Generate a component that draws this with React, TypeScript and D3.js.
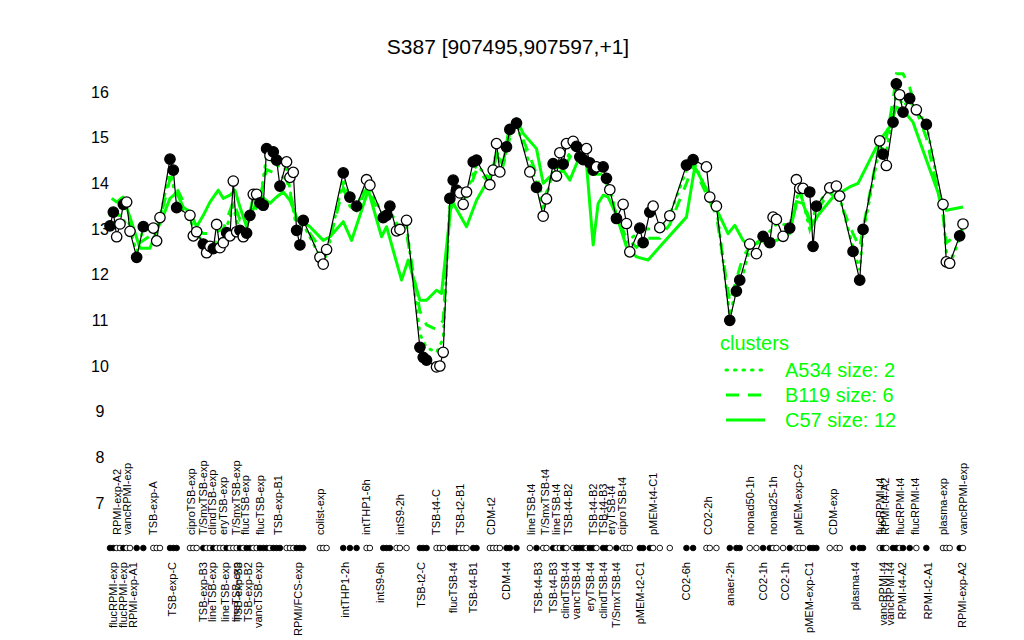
import React from "react";
import * as d3 from "d3";

// ---------- data ----------
const pointPos = [0,1,2,3,4,5,6,8,10,13,14,15,18,19,20,24,25,26,28,29,30,31,32,33,34,35,36,37,38,39,40,41,42,43,44,45,46,47,48,49,50,51,53,54,55,56,57,58,63,64,65,70,72,74,77,78,82,83,84,86,87,89,93,94,95,98,99,100,102,103,104,105,106,107,109,110,114,115,116,117,119,120,122,126,128,130,131,133,134,135,136,137,139,140,141,142,143,144,145,146,148,149,150,152,154,155,156,159,160,162,163,165,168,173,175,179,180,182,186,188,189,192,194,196,198,199,200,202,204,206,207,208,210,211,212,216,218,219,223,225,226,231,232,233,235,236,237,238,240,242,245,250,251,252,255,256];
const pointValues = [13.07,13.37,12.83,13.11,13.54,13.59,12.95,12.38,13.05,13.02,12.74,13.25,14.53,14.29,13.47,13.30,12.85,12.94,12.67,12.48,12.62,12.57,13.10,12.59,12.70,12.92,12.85,14.05,12.94,12.97,12.83,12.91,13.30,13.76,13.76,13.57,13.52,14.76,14.61,14.69,14.51,13.94,14.47,14.13,14.24,12.97,12.65,13.19,12.38,12.23,12.55,14.23,13.70,13.50,14.08,13.96,13.25,13.30,13.50,12.96,12.99,13.19,10.41,10.19,10.13,9.98,10.00,10.30,13.67,14.07,13.85,13.79,13.54,13.81,14.47,14.51,13.97,14.29,14.87,14.25,14.80,15.18,15.32,14.25,13.91,13.28,13.66,14.43,14.16,14.67,14.42,14.87,14.92,14.81,14.58,14.52,14.76,14.45,14.29,14.36,14.36,14.11,13.86,13.23,13.54,13.12,12.50,13.02,12.70,13.37,13.50,13.03,13.29,14.40,14.52,14.36,13.70,13.50,11.00,11.64,11.88,12.67,12.46,12.84,12.70,13.26,13.21,12.84,13.02,14.08,13.89,13.89,13.81,12.62,13.50,13.90,13.94,13.72,12.51,11.88,12.99,14.93,14.64,14.39,15.34,16.18,15.94,15.56,15.86,15.61,15.29,13.54,12.28,12.25,12.85,13.11];
const pointFilled = [1,1,0,0,1,0,0,1,1,0,0,0,1,1,1,0,0,0,1,0,0,1,0,0,0,1,0,0,0,1,0,1,1,0,0,1,1,1,0,1,1,1,0,0,0,1,1,1,0,0,0,1,1,1,0,0,1,1,1,0,0,0,1,1,1,0,0,0,1,1,1,0,0,0,1,1,0,0,0,0,1,1,1,0,1,0,0,1,0,0,1,0,0,1,1,1,0,1,1,0,1,1,0,1,0,0,0,1,1,1,0,0,0,1,1,0,0,0,1,1,1,0,0,1,1,0,0,0,1,0,0,0,1,1,1,0,0,0,1,1,1,0,1,0,1,1,0,1,1,0,1,0,0,0,1,0];

const c57Pos = [0.5,2,3.9,6,9,12,14,15.5,18,20,22,24,26,28,30,32.5,34,36,37.5,39,41,42.8,45,48,50,52,54,56,60,64,66,70,72.5,77.5,81.5,83,87.5,89.5,93,95,98,99.5,102.5,107,110,114,116,118,119.5,122,124,128,130,132,136,138,140.5,143,145,146.5,148,149.5,152,155,158,161.5,165,173,175.5,180,185.5,187.5,190,192,196,200,204,206,208,210.5,212.5,217,222,224.5,227,231,234,236,238,241,244,249,251,256];
const c57Values = [13.67,13.59,13.70,13.26,12.58,12.58,12.97,13.19,13.67,13.79,13.48,13.37,13.05,13.30,13.59,13.85,13.67,13.74,13.85,13.48,13.05,13.63,13.74,13.56,13.70,13.81,13.63,13.26,13.05,12.75,12.83,13.16,12.75,13.85,12.83,13.05,11.88,12.32,11.44,11.44,11.66,11.59,13.63,13.05,13.63,14.14,14.61,14.43,15.09,15.42,15.09,14.76,14.00,14.14,14.29,14.07,14.51,14.43,12.65,13.56,13.74,13.70,13.30,12.61,12.39,12.32,12.61,13.26,14.36,13.74,12.90,13.08,12.75,12.61,12.75,12.75,12.90,13.60,13.56,13.05,13.30,13.70,13.92,14.00,14.36,14.94,15.23,15.67,15.60,15.34,14.72,13.70,13.41,13.48];

const b119Pos = [0,3,6,9,13,15,18,20,24,26,28,31,34,37,39,42,45,47,50,53,56,58,63,65,70,72,74,77,82,84,87,89,93,95,98,100,102,104,107,110,114,116,118,120,122,126,128,130,133,136,139,142,145,148,150,152,155,158,161,165,168,173,175,180,182,186,188,190,192,196,200,204,207,210,212,216,219,223,225,226,231,233,235,236,238,240,242,245,250,251,253,256];
const b119Values = [13.4,13.3,13.1,12.7,12.9,13.2,14.1,13.9,13.3,13.0,12.9,12.9,13.0,13.6,13.2,13.3,13.7,14.3,14.2,14.1,13.2,13.1,12.6,12.5,13.9,13.5,13.4,13.9,13.2,13.3,12.9,12.9,11.2,10.9,10.8,11.0,13.4,13.7,13.7,14.3,14.0,14.6,14.4,15.0,15.3,14.6,14.2,13.6,14.2,14.3,14.7,14.5,14.2,14.2,13.8,13.3,12.8,12.6,12.8,12.8,13.1,14.0,14.4,13.6,13.3,11.4,11.9,12.4,12.6,12.7,12.8,13.0,13.8,13.2,13.4,13.8,13.6,12.9,12.6,13.0,14.9,15.0,15.8,16.4,16.4,16.1,15.6,15.0,13.3,12.7,12.8,13.0];

const a534Pos = [0,3,6,8,10,14,18,20,24,26,28,31,34,37,39,42,45,47,50,53,56,58,63,65,70,72,74,77,82,84,87,89,93,95,98,100,102,104,107,110,114,116,118,120,122,126,128,130,133,136,139,142,145,148,150,152,155,158,161,165,168,173,175,180,182,186,188,190,192,196,200,204,207,210,212,216,219,223,225,226,231,233,235,236,238,240,242,245,250,251,253,256];
const a534Values = [13.3,13.3,13.0,12.5,13.0,12.9,14.3,13.6,13.2,12.9,12.7,12.7,12.8,13.5,12.9,13.2,13.6,14.6,14.4,14.3,13.0,13.1,12.4,12.4,14.1,13.7,13.5,14.0,13.3,13.4,13.0,13.1,10.7,10.4,10.3,10.6,13.6,13.9,13.8,14.4,14.1,14.7,14.4,15.1,15.3,14.4,14.0,13.4,14.3,14.4,14.8,14.6,14.3,14.3,13.9,13.3,12.7,12.9,13.0,13.0,13.3,14.3,14.5,13.7,13.5,11.1,11.7,12.0,12.6,12.8,13.1,13.1,13.9,13.0,13.5,13.9,13.7,12.6,12.1,12.9,14.8,14.7,15.5,16.0,15.7,15.8,15.6,15.3,13.4,12.5,12.4,13.0];

const topLabelNames = ["RPMI-exp-A2","vancRPMI-exp","TSB-exp-A","ciproTSB-exp","T/SmxTSB-exp","clindTSB-exp","eryTSB-exp","T/SmxTSB-exp","flucTSB-exp","flucTSB-exp","TSB-exp-B1","colist-exp","intTHP1-6h","intS9-2h","TSB-t4-C","TSB-t2-B1","CDM-t2","lineTSB-t4","T/SmxTSB-t4","lineTSB-t4","TSB-t4-B2","TSB-t4-B2","TSB-t4-B3","eryTSB-t4","ciproTSB-t4","pMEM-t4-C1","CO2-2h","nonad50-1h","nonad25-1h","pMEM-exp-C2","CDM-exp","flucRPMI-t4","RPMI-t4-A2","flucRPMI-t4","flucRPMI-t4","plasma-exp","vancRPMI-exp"];
const topLabelPos = [2.2,5,13,24.5,28,30.7,34,38,40.5,45,50.5,63,77,87,98,105,114.5,126.5,130.5,134,137.5,145,148,150.5,153.6,163,179.6,192,199,206.6,217,231,232.6,237,241.6,250,256];

const bottomLabelNames = ["flucRPMI-exp","flucRPMI-exp","RPMI-exp-A1","TSB-exp-C","TSB-exp-B3","lineTSB-exp","lineTSB-exp","lineTSB-exp","TSB-exp-B3","TSB-exp-B2","vancTSB-exp","RPMI/FCS-exp","intTHP1-2h","intS9-6h","TSB-t2-C","flucTSB-t4","TSB-t4-B1","CDM-t4","TSB-t4-B3","TSB-t4-B3","clindTSB-t4","vancTSB-t4","eryTSB-t4","clindTSB-t4","T/SmxTSB-t4","pMEM-t2-C1","CO2-6h","anaer-2h","CO2-1h","CO2-1h","pMEM-exp-C1","plasma-t4","vancRPMI-t4","vancRPMI-t4","RPMI-t4-A2","RPMI-t2-A1","RPMI-exp-A2"];
const bottomLabelPos = [0.8,4,7,18.5,28,30.8,34.5,37.8,38.5,41.5,44.5,56.5,70.5,81,93.5,103,109,119,128.5,133,136.5,140,144,148,152,159,173,186,196,202.6,209.8,223.6,232,234,237.6,245.6,255.6];

const yTicks = [7,8,9,10,11,12,13,14,15,16];
const legendTitle = "clusters";
const legendNames = ["A534 size: 2","B119 size: 6","C57 size: 12"];
const titleText = "S387 [907495,907597,+1]";

const GREEN = "#00ff00";
const FONT = "'Liberation Sans', Arial, Helvetica, sans-serif";

export default function App() {
  const W = 1024, H = 640;
  const x = d3.scaleLinear().domain([0, 256]).range([110, 963]);
  const y = d3.scaleLinear().domain([7, 16]).range([503, 92]);
  const line = d3.line<[number, number]>().x(d => x(d[0])).y(d => y(d[1]));

  const pts: [number, number][] = pointPos.map((p, i) => [p, pointValues[i]]);
  const c57: [number, number][] = c57Pos.map((p, i) => [p, c57Values[i]]);
  const b119: [number, number][] = b119Pos.map((p, i) => [p, b119Values[i]]);
  const a534: [number, number][] = a534Pos.map((p, i) => [p, a534Values[i]]);

  const rugY = 548;
  const legendStyles = [
    { dash: "1.5 7", w: 3 },
    { dash: "13 9", w: 3 },
    { dash: "", w: 3 },
  ];

  return (
    <svg width={W} height={H} style={{ position: "absolute", left: 0, top: 0, background: "#fff" }} fontFamily={FONT}>
      <rect width={W} height={H} fill="#fff" />
      <text x={508} y={54} textAnchor="middle" fontSize={21} fill="#000">{titleText}</text>

      {yTicks.map(t => (
        <text key={t} x={100} y={y(t)} dy="0.35em" textAnchor="middle" fontSize={16} fill="#000">{t}</text>
      ))}

      <path d={line(c57) || ""} fill="none" stroke={GREEN} strokeWidth={3} strokeLinejoin="round" />
      <path d={line(b119) || ""} fill="none" stroke={GREEN} strokeWidth={3} strokeDasharray="12 10" />
      <path d={line(a534) || ""} fill="none" stroke={GREEN} strokeWidth={3} strokeDasharray="1.5 7" strokeLinecap="round" />

      <path d={line(pts) || ""} fill="none" stroke="#000" strokeWidth={1.2} />
      {pts.map((d, i) => (
        <circle key={i} cx={x(d[0])} cy={y(d[1])} r={5.2} fill={pointFilled[i] ? "#000" : "#fff"} stroke="#000" strokeWidth={1.3} />
      ))}

      {pointPos.map((p, i) => (
        <circle key={"r" + i} cx={x(p)} cy={rugY} r={2.8} fill={pointFilled[i] ? "#000" : "#fff"} stroke="#000" strokeWidth={0.9} />
      ))}

      {topLabelNames.map((n, i) => (
        <text key={"t" + i} transform={`translate(${x(topLabelPos[i])},535) rotate(-90)`} dy="0.35em" textAnchor="start" fontSize={11} fill="#000">{n}</text>
      ))}
      {bottomLabelNames.map((n, i) => (
        <text key={"b" + i} transform={`translate(${x(bottomLabelPos[i])},562) rotate(-90)`} dy="0.35em" textAnchor="end" fontSize={11} fill="#000">{n}</text>
      ))}

      <text x={720} y={350} fontSize={20} fill={GREEN}>{legendTitle}</text>
      {legendNames.map((n, i) => (
        <g key={"l" + i}>
          <line x1={726} x2={765} y1={370 + i * 25} y2={370 + i * 25} stroke={GREEN} strokeWidth={legendStyles[i].w}
            strokeDasharray={legendStyles[i].dash || undefined} strokeLinecap={i === 0 ? "round" : "butt"} />
          <text x={785} y={370 + i * 25} dy="0.35em" fontSize={20} fill={GREEN}>{n}</text>
        </g>
      ))}
    </svg>
  );
}
